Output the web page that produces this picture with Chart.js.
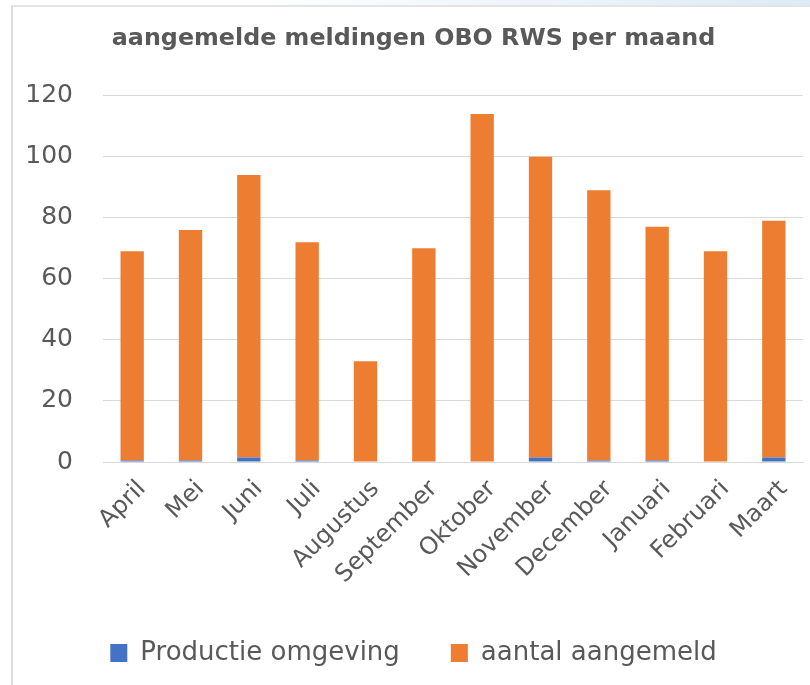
<!DOCTYPE html>
<html>
<head>
<meta charset="utf-8">
<title>aangemelde meldingen OBO RWS per maand</title>
<script src="https://cdn.jsdelivr.net/npm/chart.js@4.4.1/dist/chart.umd.min.js"></script>
<style>
    body {
        margin: 0;
        background: #ffffff;
    }
    #top-strip {
        position: absolute;
        left: 0;
        top: 0;
        width: 810px;
        height: 5px;
        background: linear-gradient(to right, #ffffff 30%, #dcebf5 100%);
    }
    #frame {
        position: absolute;
        left: 11px;
        top: 5px;
        width: 799px;
        height: 680px;
        border-left: 2px solid #dcdcdc;
        border-top: 2px solid #e4e4e4;
        box-sizing: border-box;
    }
    #chart-box {
        position: absolute;
        left: 0;
        top: 0;
        width: 810px;
        height: 685px;
    }
</style>
</head>
<body>
<div id="top-strip"></div>
<div id="frame"></div>
<div id="chart-box">
    <canvas id="meldingen-chart" width="810" height="685"></canvas>
</div>

<script>
// Data
const months = ['April', 'Mei', 'Juni', 'Juli', 'Augustus', 'September',
    'Oktober', 'November', 'December', 'Januari', 'Februari', 'Maart'];

// Productie omgeving (small blue part at the bottom of each bar)
const productieOmgeving = [0.5, 0.5, 1.5, 0.5, 0, 0, 0, 1.5, 0.5, 0.5, 0, 1.5];

// aantal aangemeld (orange part stacked on top)
const aantalAangemeld = [68.5, 75.5, 92.5, 71.5, 33, 70, 114, 98.5, 88.5, 76.5, 69, 77.5];

const yTicks = [0, 20, 40, 60, 80, 100, 120];

// Colors
const blue = '#4472c4';
const orange = '#ed7d31';
const textGrey = '#595959';
const gridGrey = '#d9d9d9';

const fontFamily = '"DejaVu Sans", sans-serif';

// Left padding moves title + legend to the right, y axis width takes the rest
// (y labels are clipped to the axis box, so keep padLeft below the label start)
const padLeft = 24;
const plotLeft = 103;

// Chart
const ctx = document.getElementById('meldingen-chart').getContext('2d');

const meldingenChart = new Chart(ctx, {
    type: 'bar',
    data: {
        labels: months,
        datasets: [
            {
                label: 'Productie omgeving',
                data: productieOmgeving,
                backgroundColor: blue,
                borderWidth: 0
            },
            {
                label: 'aantal aangemeld',
                data: aantalAangemeld,
                backgroundColor: orange,
                borderWidth: 0
            }
        ]
    },
    options: {
        responsive: false,
        animation: false,
        datasets: {
            bar: {
                barPercentage: 0.4,
                categoryPercentage: 1
            }
        },
        layout: {
            padding: { left: padLeft, right: 7, top: 0, bottom: 9 }
        },
        scales: {
            x: {
                stacked: true,
                grid: { display: false, drawTicks: false },
                border: { color: gridGrey, width: 1 },
                ticks: {
                    color: textGrey,
                    font: { family: fontFamily, size: 24 },
                    minRotation: 45,
                    maxRotation: 45,
                    autoSkip: false,
                    padding: 13,
                    labelOffset: 10
                },
                afterFit: (scale) => {
                    scale.height = 127;
                }
            },
            y: {
                stacked: true,
                min: 0,
                max: 120,
                afterBuildTicks: (scale) => {
                    scale.ticks = yTicks.map(v => ({ value: v }));
                },
                grid: {
                    color: gridGrey,
                    lineWidth: 1,
                    drawTicks: false
                },
                border: { display: false },
                ticks: {
                    color: textGrey,
                    font: { family: fontFamily, size: 25 },
                    padding: 30
                },
                afterFit: (scale) => {
                    scale.width = plotLeft - padLeft;
                }
            }
        },
        plugins: {
            title: {
                display: true,
                text: 'aangemelde meldingen OBO RWS per maand',
                color: textGrey,
                font: { family: fontFamily, size: 23.8, weight: 'bold' },
                padding: { top: 25, bottom: 42 }
            },
            legend: {
                position: 'bottom',
                labels: {
                    color: textGrey,
                    font: { family: fontFamily, size: 26 },
                    boxWidth: 17,
                    boxHeight: 18,
                    padding: 51
                }
            },
            tooltip: { enabled: false }
        }
    }
});
</script>
</body>
</html>
